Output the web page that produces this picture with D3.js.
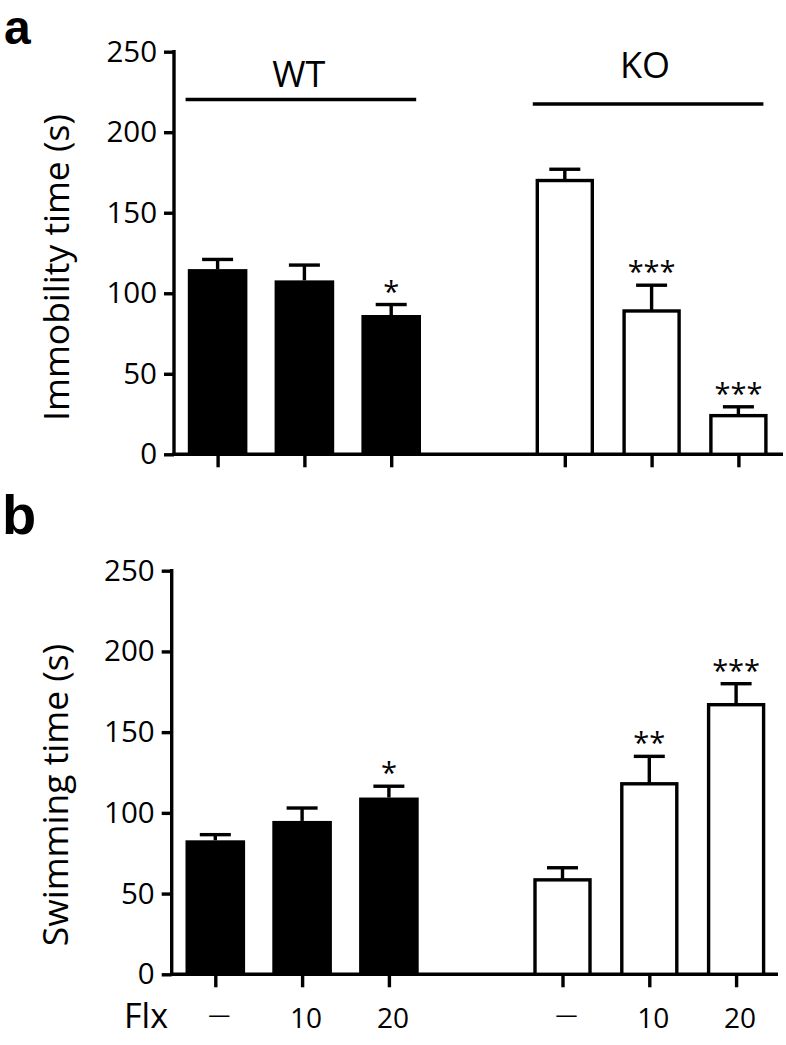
<!DOCTYPE html>
<html>
<head>
<meta charset="utf-8">
<script src="https://cdnjs.cloudflare.com/ajax/libs/d3/7.8.5/d3.min.js"></script>
<style>
  html, body { margin: 0; padding: 0; background: #fff; }
  svg { display: block; }
  text { font-family: "Open Sans", "Noto Sans", sans-serif; fill: #000; }
</style>
</head>
<body>
<svg id="chart" width="786" height="1045"></svg>
<script>
// ---- data ----
const groupNames = ["WT", "KO"];
const groupOf = ["WT", "WT", "WT", "KO", "KO", "KO"];
const flxDose = ["\u2014", "10", "20", "\u2014", "10", "20"];
const slotIndex = [0, 1, 2, 4, 5, 6];
const yTicks = [0, 50, 100, 150, 200, 250];

const immobilityMean = [115, 108, 86.5, 170, 89, 24];
const immobilitySEM = [6, 9.5, 6.5, 7, 16, 5.5];
const immobilitySig = ["", "", "*", "", "***", "***"];

const swimmingMean = [83, 95, 109.5, 58.5, 118, 167];
const swimmingSEM = [3.5, 8, 7, 7.5, 17, 13];
const swimmingSig = ["", "", "*", "", "**", "***"];

// ---- drawing ----
const svg = d3.select("#chart");
const STROKE = 3.4;

function drawPanel(cfg) {
  const g = svg.append("g");
  const y = d3.scaleLinear().domain([0, 250]).range([cfg.yBottom, cfg.yTop]);
  const x = d3.scaleLinear().domain([0, 6])
    .range([cfg.axisX + 43.6, cfg.axisX + 43.6 + 6 * 86.8]);

  // y axis
  const yAxis = d3.axisLeft(y).tickValues(yTicks).tickSize(10).tickPadding(7).tickSizeOuter(0);
  const ya = g.append("g").attr("transform", `translate(${cfg.axisX},0)`).call(yAxis);
  ya.select(".domain").attr("stroke", "#000").attr("stroke-width", STROKE)
    .attr("d", `M0,${cfg.yTop - STROKE / 2}V${cfg.yBottom + STROKE / 2}`);
  ya.selectAll(".tick line").attr("stroke", "#000").attr("stroke-width", STROKE);
  ya.selectAll(".tick text").style("font-family", '"Open Sans", sans-serif')
    .style("font-size", "29.5px").attr("fill", "#000");

  // x axis
  const xAxis = d3.axisBottom(x).tickValues(slotIndex).tickFormat("").tickSize(13).tickSizeOuter(0);
  const xa = g.append("g").attr("transform", `translate(0,${cfg.yBottom})`).call(xAxis);
  xa.select(".domain").remove();
  xa.selectAll(".tick line").attr("stroke", "#000").attr("stroke-width", STROKE);
  g.append("line")
    .attr("x1", cfg.axisX - STROKE / 2).attr("x2", cfg.xEnd)
    .attr("y1", y(0)).attr("y2", y(0))
    .attr("stroke", "#000").attr("stroke-width", STROKE);

  const items = cfg.mean.map((m, i) => ({
    m, s: cfg.sem[i], sig: cfg.sig[i], grp: groupOf[i], cx: x(slotIndex[i])
  }));

  // bars
  g.selectAll("rect.bar").data(items).join("rect")
    .attr("class", "bar")
    .attr("x", d => d.grp === "WT" ? d.cx - 29.8 : d.cx - 27.5)
    .attr("width", d => d.grp === "WT" ? 59.6 : 55)
    .attr("y", d => y(d.m))
    .attr("height", d => y(0) - y(d.m))
    .attr("fill", d => d.grp === "WT" ? "#000" : "#fff")
    .attr("stroke", "#000")
    .attr("stroke-width", d => d.grp === "WT" ? 0 : STROKE);

  // error bars
  g.selectAll("line.stem").data(items).join("line")
    .attr("class", "stem")
    .attr("x1", d => d.cx).attr("x2", d => d.cx)
    .attr("y1", d => y(d.m)).attr("y2", d => y(d.m + d.s))
    .attr("stroke", "#000").attr("stroke-width", STROKE);
  g.selectAll("line.cap").data(items).join("line")
    .attr("class", "cap")
    .attr("x1", d => d.cx - 15.5).attr("x2", d => d.cx + 15.5)
    .attr("y1", d => y(d.m + d.s)).attr("y2", d => y(d.m + d.s))
    .attr("stroke", "#000").attr("stroke-width", STROKE);

  // significance stars
  g.selectAll("text.sig").data(items.filter(d => d.sig)).join("text")
    .attr("class", "sig")
    .attr("x", d => d.cx)
    .attr("y", d => y(d.m + d.s) - 3)
    .attr("text-anchor", "middle")
    .style("font-size", "29px")
    .text(d => d.sig);

  // y label
  g.append("text")
    .attr("transform", `translate(${cfg.labelX},${cfg.labelY}) rotate(-90)`)
    .attr("text-anchor", "middle")
    .style("font-size", "35.5px")
    .text(cfg.label);

  return { g, x, y };
}

const pa = drawPanel({
  axisX: 174, yTop: 51.7, yBottom: 454.3, xEnd: 783,
  mean: immobilityMean, sem: immobilitySEM, sig: immobilitySig,
  label: "Immobility time (s)", labelX: 69, labelY: 267.5
});
const pb = drawPanel({
  axisX: 171.7, yTop: 570.7, yBottom: 974.3, xEnd: 778,
  mean: swimmingMean, sem: swimmingSEM, sig: swimmingSig,
  label: "Swimming time (s)", labelX: 68, labelY: 795
});

// group lines and labels (panel a)
const groupLineY = { WT: 99.5, KO: 104 };
const groupTextY = { WT: 87, KO: 78 };
groupNames.forEach(name => {
  const idx = groupOf.map((gname, i) => gname === name ? i : -1).filter(i => i >= 0);
  const x1 = pa.x(slotIndex[idx[0]]) - 32;
  const x2 = pa.x(slotIndex[idx[idx.length - 1]]) + 25;
  pa.g.append("line")
    .attr("x1", x1).attr("x2", x2)
    .attr("y1", groupLineY[name]).attr("y2", groupLineY[name])
    .attr("stroke", "#000").attr("stroke-width", STROKE);
  pa.g.append("text")
    .attr("x", (x1 + x2) / 2 + (name === "WT" ? -2 : -3))
    .attr("y", groupTextY[name])
    .attr("text-anchor", "middle")
    .style("font-size", "36px")
    .text(name);
});

// Flx dose labels (panel b)
pb.g.selectAll("text.dose").data(flxDose).join("text")
  .attr("class", "dose")
  .attr("x", (d, i) => pb.x(slotIndex[i]) + 4)
  .attr("y", (d, i) => d === "\u2014" ? 1022 : 1028)
  .attr("text-anchor", "middle")
  .style("font-size", (d) => d === "\u2014" ? "22px" : "28px")
  .text(d => d);
pb.g.append("text")
  .attr("x", 124).attr("y", 1028)
  .style("font-size", "34px")
  .text("Flx");

// panel letters
svg.append("text").attr("x", 4).attr("y", 44)
  .style("font-family", '"Liberation Sans", Arial, sans-serif')
  .style("font-weight", "bold").style("font-size", "48px").text("a");
svg.append("text").attr("x", 2).attr("y", 534)
  .style("font-family", '"Liberation Sans", Arial, sans-serif')
  .style("font-weight", "bold").style("font-size", "56px").text("b");
</script>
</body>
</html>
